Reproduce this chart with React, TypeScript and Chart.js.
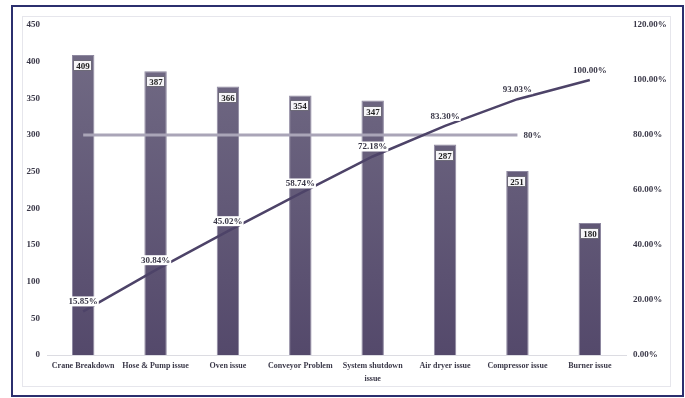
import React, { useEffect, useRef } from "react";
import { Chart, registerables } from "chart.js";

Chart.register(...registerables);

const categories: (string | string[])[] = [
  "Crane Breakdown",
  "Hose & Pump issue",
  "Oven issue",
  "Conveyor Problem",
  ["System shutdown", "issue"],
  "Air dryer issue",
  "Compressor issue",
  "Burner issue",
];
const counts = [409, 387, 366, 354, 347, 287, 251, 180];
const cumulativePct = [15.85, 30.84, 45.02, 58.74, 72.18, 83.3, 93.03, 100.0];
const thresholdPct = [80, 80, 80, 80, 80, 80, 80, null];
const thresholdLabel = "80%";

const FONT = "'Liberation Serif', 'Times New Roman', serif";
const TEXT = "#3a3848";

const labelPlugin = {
  id: "customLabels",
  afterDatasetsDraw(chart: any) {
    const ctx = chart.ctx;
    ctx.save();
    ctx.font = `bold 9px ${FONT}`;
    ctx.textAlign = "center";
    ctx.textBaseline = "middle";
    // bar labels
    const barMeta = chart.getDatasetMeta(0);
    barMeta.data.forEach((el: any, i: number) => {
      const txt = String(counts[i]);
      const w = Math.round(ctx.measureText(txt).width + 5);
      const h = 11;
      const cx = Math.round(el.x);
      const cy = Math.round(el.y + 11);
      const x0 = cx - Math.round(w / 2);
      const y0 = cy - Math.round(h / 2);
      ctx.fillStyle = "#f6f5f8";
      ctx.fillRect(x0, y0, w, h);
      ctx.strokeStyle = "#6d6a78";
      ctx.lineWidth = 1;
      ctx.strokeRect(x0 + 0.5, y0 + 0.5, w - 1, h - 1);
      ctx.fillStyle = "#222222";
      ctx.fillText(txt, cx, cy + 0.5);
    });
    // cumulative labels
    const lineMeta = chart.getDatasetMeta(1);
    lineMeta.data.forEach((el: any, i: number) => {
      const txt = cumulativePct[i].toFixed(2) + "%";
      const w = ctx.measureText(txt).width + 2;
      const h = 10;
      const cx = el.x;
      const cy = el.y - 10;
      ctx.fillStyle = "#ffffff";
      ctx.fillRect(cx - w / 2, cy - h / 2, w, h);
      ctx.fillStyle = TEXT;
      ctx.fillText(txt, cx, cy + 0.5);
    });
    // threshold label
    const thrMeta = chart.getDatasetMeta(2);
    const last = thrMeta.data[6];
    if (last) {
      ctx.textAlign = "left";
      ctx.fillStyle = TEXT;
      ctx.fillText(thresholdLabel, last.x + 6, last.y + 0.5);
    }
    ctx.restore();
  },
};

export default function App() {
  const ref = useRef<HTMLCanvasElement | null>(null);
  useEffect(() => {
    const canvas = ref.current!;
    const ctx0 = canvas.getContext("2d")!;
    const grad = ctx0.createLinearGradient(0, 50, 0, 355);
    grad.addColorStop(0, "#716a84");
    grad.addColorStop(1, "#54496b");
    const chart = new Chart(canvas, {
      type: "bar",
      data: {
        labels: categories as any,
        datasets: [
          {
            type: "bar",
            data: counts,
            backgroundColor: grad,
            borderColor: "#8e88a0",
            borderWidth: 1,
            barPercentage: 0.31,
            categoryPercentage: 1,
            yAxisID: "y",
            order: 3,
          } as any,
          {
            type: "line",
            data: cumulativePct,
            borderColor: "#4d4368",
            borderWidth: 2.5,
            pointRadius: 0,
            tension: 0,
            yAxisID: "y1",
            order: 1,
          },
          {
            type: "line",
            data: thresholdPct,
            borderColor: "#aaa5b8",
            borderWidth: 3,
            pointRadius: 0,
            yAxisID: "y1",
            order: 2,
          },
        ],
      },
      options: {
        animation: false,
        responsive: false,
        maintainAspectRatio: false,
        layout: { padding: { top: 25, left: 0, right: 0, bottom: 0 } },
        plugins: { legend: { display: false }, tooltip: { enabled: false } },
        scales: {
          x: {
            grid: { display: false, drawTicks: false },
            border: { display: true, color: "#dcdce2" },
            ticks: {
              color: TEXT,
              font: { family: FONT, size: 8, weight: "bold", lineHeight: 1.55 },
              maxRotation: 0,
              autoSkip: false,
              padding: 5,
            },
            afterFit: (s: any) => {
              s.height = 43;
            },
          },
          y: {
            position: "left",
            min: 0,
            max: 450,
            grid: { display: false, drawTicks: false },
            border: { display: false },
            ticks: {
              stepSize: 50,
              color: TEXT,
              padding: 7,
              font: { family: FONT, size: 9, weight: "bold" },
            },
            afterFit: (s: any) => {
              s.width = 47;
            },
          },
          y1: {
            position: "right",
            min: 0,
            max: 120,
            grid: { display: false, drawTicks: false },
            border: { display: false },
            ticks: {
              stepSize: 20,
              color: TEXT,
              padding: 7,
              font: { family: FONT, size: 9, weight: "bold" },
              callback: (v: any) => Number(v).toFixed(2) + "%",
            },
            afterFit: (s: any) => {
              s.width = 59;
            },
          },
        },
      },
      plugins: [labelPlugin],
    });
    return () => chart.destroy();
  }, []);

  return (
    <div style={{ position: "fixed", left: 0, top: 0, width: 685, height: 398, background: "#fff" }}>
      <div
        style={{
          position: "absolute",
          left: 11,
          top: 5,
          width: 669,
          height: 388,
          border: "2px solid #2b2f6e",
        }}
      />
      <div
        style={{
          position: "absolute",
          left: 22,
          top: 16,
          width: 647,
          height: 369,
          border: "1px solid #e6e6ec",
        }}
      />
      <canvas ref={ref} width={685} height={398} style={{ position: "absolute", left: 0, top: 0 }} />
    </div>
  );
}
